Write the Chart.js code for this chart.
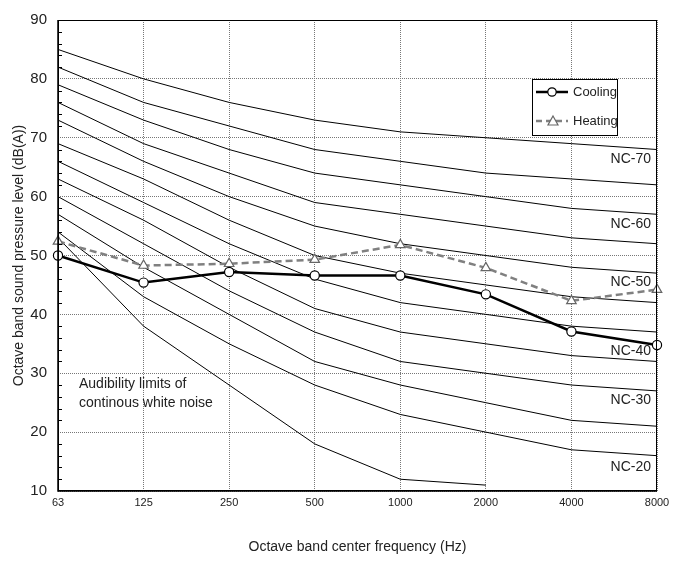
<!DOCTYPE html>
<html>
<head>
<meta charset="utf-8">
<script src="https://cdn.jsdelivr.net/npm/chart.js@4.4.0/dist/chart.umd.min.js"></script>
<style>
  body { margin: 0; background: #fff; }
  #canvas { display: block; }
</style>
</head>
<body>
<canvas id="canvas" width="682" height="562"></canvas>
<script>
// octave bands
var freqs = ["63", "125", "250", "500", "1000", "2000", "4000", "8000"];

// measured levels
var cooling = [50.0, 45.4, 47.2, 46.6, 46.6, 43.4, 37.1, 34.8];
var heating = [52.4, 48.3, 48.6, 49.3, 51.8, 47.9, 42.3, 44.2];

// NC curves
var nc70 = [85, 80, 76, 73, 71, 70, 69, 68];
var nc65 = [82, 76, 72, 68, 66, 64, 63, 62];
var nc60 = [79, 73, 68, 64, 62, 60, 58, 57];
var nc55 = [76, 69, 64, 59, 57, 55, 53, 52];
var nc50 = [73, 66, 60, 55, 52, 50, 48, 47];
var nc45 = [69, 63, 56, 50, 47, 45, 43, 42];
var nc40 = [66, 59, 52, 46, 42, 40, 38, 37];
var nc35 = [63, 56, 48, 41, 37, 35, 33, 32];
var nc30 = [60, 52, 44, 37, 32, 30, 28, 27];
var nc25 = [57, 48, 40, 32, 28, 25, 22, 21];
var nc20 = [54, 43, 35, 28, 23, 20, 17, 16];
// audibility limit of continuous white noise (stops at 2000 Hz)
var audibility = [53, 38, 28, 18, 12, 11, null, null];

var ncCurves = [nc70, nc65, nc60, nc55, nc50, nc45, nc40, nc35, nc30, nc25, nc20, audibility];

// curve labels on the right side and the level they sit at
var ncNames = ["NC-70", "NC-60", "NC-50", "NC-40", "NC-30", "NC-20"];
var ncNameLevels = [66.3, 55.3, 45.4, 33.7, 25.4, 14.0];

var yTicks = [10, 20, 30, 40, 50, 60, 70, 80, 90];

var FONT = "'Liberation Sans', Arial, sans-serif";

var datasets = [
  {
    label: "Cooling",
    data: cooling,
    borderColor: "#000",
    borderWidth: 2.5,
    pointStyle: "circle",
    pointRadius: 4.6,
    pointBorderWidth: 1.2,
    pointBackgroundColor: "#fff",
    pointBorderColor: "#000",
    fill: false,
    tension: 0
  },
  {
    label: "Heating",
    data: heating,
    borderColor: "#808080",
    borderWidth: 2.5,
    borderDash: [7, 4],
    pointStyle: "triangle",
    pointRadius: 5.5,
    pointBorderWidth: 1.2,
    pointBackgroundColor: "#fff",
    pointBorderColor: "#666",
    fill: false,
    tension: 0
  }
];

ncCurves.forEach(function(c, i) {
  datasets.push({
    label: "nc" + i,
    data: c,
    borderColor: "#000",
    borderWidth: 1,
    pointRadius: 0,
    fill: false,
    tension: 0
  });
});

var extras = {
  id: "extras",
  afterDatasetsDraw: function(chart) {
    var ctx = chart.ctx;
    var a = chart.chartArea;
    var y = chart.scales.y;
    ctx.save();

    // frame
    ctx.strokeStyle = "#000";
    ctx.lineWidth = 1;
    ctx.setLineDash([]);
    ctx.strokeRect(a.left + 0.5, a.top + 0.5, a.right - a.left - 1, a.bottom - a.top - 1);
    ctx.lineWidth = 1.5;
    ctx.beginPath();
    ctx.moveTo(a.left, a.top); ctx.lineTo(a.left, a.bottom); ctx.lineTo(a.right, a.bottom);
    ctx.stroke();

    // minor ticks on the y axis (inside)
    ctx.lineWidth = 1;
    ctx.beginPath();
    for (var v = 12; v < 90; v += 2) {
      if (v % 10 === 0) continue;
      var py = Math.round(y.getPixelForValue(v)) + 0.5;
      ctx.moveTo(a.left, py);
      ctx.lineTo(a.left + 4, py);
    }
    ctx.stroke();

    // NC labels
    ctx.fillStyle = "#222";
    ctx.font = "14px " + FONT;
    ctx.textAlign = "right";
    ctx.textBaseline = "middle";
    ncNames.forEach(function(n, i) {
      ctx.fillText(n, a.right - 6, y.getPixelForValue(ncNameLevels[i]));
    });

    // audibility note
    ctx.textAlign = "left";
    ctx.fillText("Audibility limits of", a.left + 21, y.getPixelForValue(28.1));
    ctx.fillText("continous white noise", a.left + 21, y.getPixelForValue(24.9));

    // legend box
    var lx = a.right - 125, ly = a.top + 59, lw = 85, lh = 56;
    ctx.fillStyle = "#fff";
    ctx.fillRect(lx, ly, lw, lh);
    ctx.strokeStyle = "#000";
    ctx.lineWidth = 1;
    ctx.strokeRect(lx + 0.5, ly + 0.5, lw, lh);

    var r1 = ly + 13, r2 = ly + 42;
    // cooling sample
    ctx.lineWidth = 2.5;
    ctx.strokeStyle = "#000";
    ctx.beginPath(); ctx.moveTo(lx + 4, r1); ctx.lineTo(lx + 36, r1); ctx.stroke();
    ctx.lineWidth = 1.2;
    ctx.fillStyle = "#fff";
    ctx.beginPath(); ctx.arc(lx + 20, r1, 4.2, 0, Math.PI * 2); ctx.fill(); ctx.stroke();
    // heating sample
    ctx.lineWidth = 2.5;
    ctx.strokeStyle = "#808080";
    ctx.setLineDash([6, 4]);
    ctx.beginPath(); ctx.moveTo(lx + 4, r2); ctx.lineTo(lx + 36, r2); ctx.stroke();
    ctx.setLineDash([]);
    ctx.lineWidth = 1.2;
    ctx.strokeStyle = "#666";
    ctx.beginPath();
    ctx.moveTo(lx + 21, r2 - 5); ctx.lineTo(lx + 26, r2 + 4); ctx.lineTo(lx + 16, r2 + 4); ctx.closePath();
    ctx.fill(); ctx.stroke();

    ctx.fillStyle = "#222";
    ctx.font = "13px " + FONT;
    ctx.textAlign = "left";
    ctx.fillText("Cooling", lx + 41, r1);
    ctx.fillText("Heating", lx + 41, r2);

    ctx.restore();
  }
};

var config = {
  type: "line",
  data: { labels: freqs, datasets: datasets },
  options: {
    responsive: false,
    animation: false,
    layout: { padding: { top: 12, right: 25, left: 0, bottom: 0 } },
    plugins: {
      legend: { display: false },
      tooltip: { enabled: false }
    },
    scales: {
      x: {
        type: "category",
        offset: false,
        grid: { color: "#777", lineWidth: 1, drawTicks: false },
        border: { display: false, dash: [1, 1] },
        ticks: { color: "#222", font: { size: 11, family: FONT }, padding: 5, maxRotation: 0, autoSkip: false },
        title: {
          display: true,
          text: "Octave band center frequency (Hz)",
          color: "#222",
          font: { size: 14, family: FONT },
          padding: { top: 0, bottom: 6 }
        },
        afterFit: function(s) { s.height = 71; }
      },
      y: {
        min: 10,
        max: 90,
        afterBuildTicks: function(s) { s.ticks = yTicks.map(function(v) { return { value: v }; }); },
        grid: { color: "#777", lineWidth: 1, drawTicks: false },
        border: { display: false, dash: [1, 1] },
        ticks: { color: "#222", font: { size: 15, family: FONT }, padding: 11 },
        title: {
          display: true,
          text: "Octave band sound pressure level (dB(A))",
          color: "#222",
          font: { size: 14, family: FONT },
          padding: { top: 11, bottom: 0 }
        },
        afterFit: function(s) { s.width = 58; }
      }
    }
  },
  plugins: [extras]
};

window.onload = function() {
  var ctx = document.getElementById("canvas").getContext("2d");
  window.graph1 = new Chart(ctx, config);
};
</script>
</body>
</html>
